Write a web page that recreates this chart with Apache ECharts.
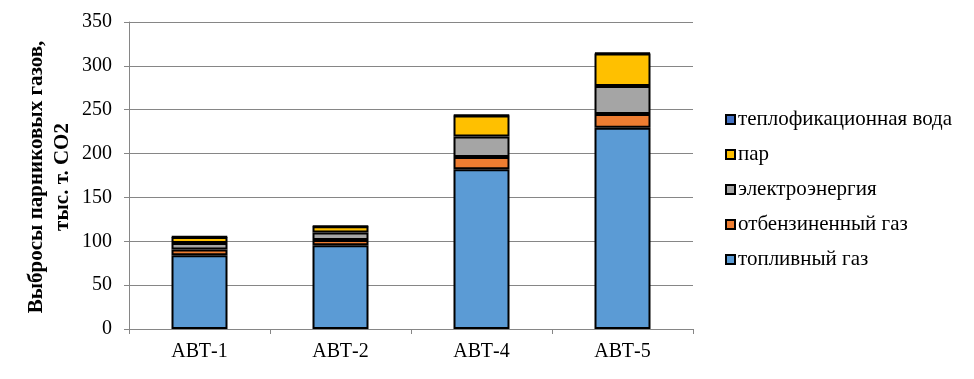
<!DOCTYPE html>
<html><head><meta charset="utf-8">
<script src="https://cdn.jsdelivr.net/npm/echarts@6/dist/echarts.min.js"></script>
<style>html,body{margin:0;padding:0;background:#fff}#c{width:974px;height:379px}</style>
</head><body><div id="c"></div>
<script>
const categories = ['АВТ-1', 'АВТ-2', 'АВТ-4', 'АВТ-5'];
const fuelGas = [84, 95.5, 182, 229.5];
const strippedGas = [6.5, 6, 14, 15.5];
const electricity = [7.5, 8.5, 23.5, 32];
const steam = [7, 7, 24, 37];
const heatingWater = [0.5, 0.5, 0.5, 1];
const seriesNames = ['топливный газ', 'отбензиненный газ', 'электроэнергия', 'пар', 'теплофикационная вода'];
const yTicks = [0, 50, 100, 150, 200, 250, 300, 350];
const colors = ['#5B9BD5', '#ED7D31', '#A5A5A5', '#FFC000', '#4472C4'];
const dataSets = [fuelGas, strippedGas, electricity, steam, heatingWater];

const font = '"Liberation Serif", "Times New Roman", serif';
const chart = echarts.init(document.getElementById('c'));
chart.setOption({
  animation: false,
  textStyle: { fontFamily: font },
  grid: { left: 129, right: 281, top: 22, bottom: 50 },
  legend: {
    orient: 'vertical',
    left: 720, top: 104,
    itemWidth: 9, itemHeight: 9, itemGap: 14,
    icon: 'rect',
    data: seriesNames.slice().reverse(),
    textStyle: { fontFamily: font, fontSize: 21, color: '#000', padding: [0, 0, 0, -2] },
    itemStyle: { borderColor: '#000', borderWidth: 2 }
  },
  graphic: [{
    type: 'text', x: 50, y: 177, rotation: Math.PI / 2,
    style: {
      text: 'Выбросы парниковых газов,\nтыс. т. CO2',
      font: 'bold 21px ' + font, fill: '#000',
      textAlign: 'center', textVerticalAlign: 'middle', lineHeight: 26
    }
  }],
  xAxis: {
    type: 'category', data: categories,
    axisLine: { lineStyle: { color: '#868686', width: 1 } },
    axisTick: { show: true, length: 5, lineStyle: { color: '#868686' } },
    axisLabel: { color: '#000', fontSize: 20, fontFamily: font, margin: 13 }
  },
  yAxis: {
    type: 'value', min: yTicks[0], max: yTicks[yTicks.length - 1], interval: 50,
    axisLine: { show: true, lineStyle: { color: '#868686' } },
    axisTick: { show: true, length: 5, lineStyle: { color: '#868686' } },
    splitLine: { lineStyle: { color: '#868686', width: 1 } },
    axisLabel: { color: '#000', fontSize: 20, fontFamily: font, margin: 17 }
  },
  series: seriesNames.map((n, i) => ({
    name: n, type: 'bar', stack: 'total', barWidth: 56,
    data: dataSets[i],
    itemStyle: { color: colors[i], borderColor: '#000', borderWidth: 2 }
  }))
});
</script></body></html>
